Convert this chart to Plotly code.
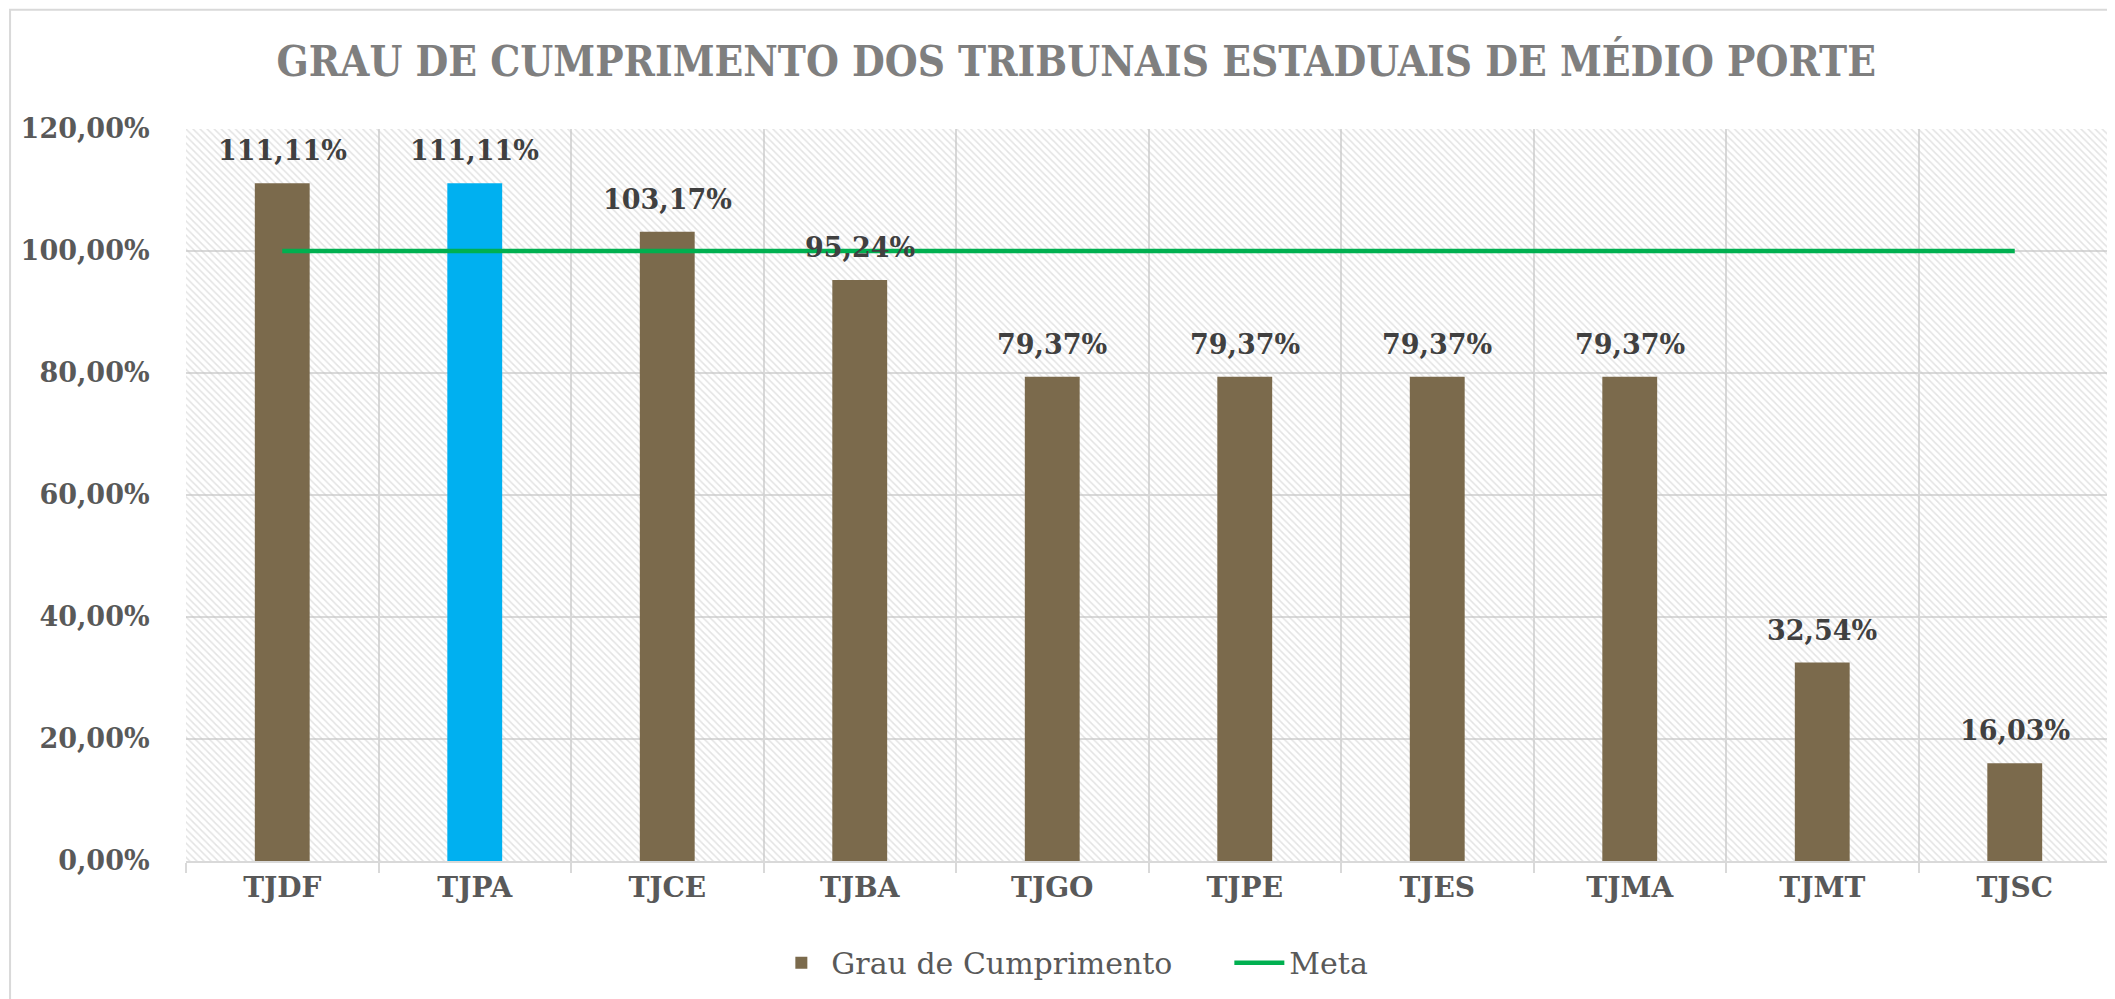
import plotly.graph_objects as go

# data
tribunais = ["TJDF", "TJPA", "TJCE", "TJBA", "TJGO", "TJPE", "TJES", "TJMA", "TJMT", "TJSC"]
grau = [111.11, 111.11, 103.17, 95.24, 79.37, 79.37, 79.37, 79.37, 32.54, 16.03]
meta = [100, 100, 100, 100, 100, 100, 100, 100, 100, 100]
y_ticks = [0, 20, 40, 60, 80, 100, 120]
destaque = "TJPA"

BROWN = "#7B6A4C"
BLUE = "#00B0F0"
GREEN = "#00B050"
GRID = "#D9D9D9"
SERIF = "DejaVu Serif"


def pct(v):
    # Portuguese style: 111,11%
    return f"{v:.2f}%".replace(".", ",")


bar_colors = [BLUE if t == destaque else BROWN for t in tribunais]

fig = go.Figure()

# hatched plot background, one cell per category
fig.add_trace(go.Bar(
    x=tribunais,
    y=[max(y_ticks)] * len(tribunais),
    width=1,
    marker=dict(
        color="rgba(0,0,0,0)",
        line=dict(width=0),
        pattern=dict(shape="\\", fgcolor="#C8C8C8", bgcolor="rgba(0,0,0,0)",
                     size=5, solidity=0.3),
    ),
    showlegend=False,
    hoverinfo="skip",
))

fig.add_trace(go.Bar(
    x=tribunais,
    y=grau,
    name="Grau de Cumprimento",
    width=0.285,
    marker=dict(color=bar_colors, line=dict(width=0)),
))

fig.add_trace(go.Scatter(
    x=tribunais,
    y=meta,
    name="Meta",
    mode="lines",
    line=dict(color=GREEN, width=4.5),
))

# value labels above the bars
for t, v in zip(tribunais, grau):
    fig.add_annotation(
        x=t, y=v, text=pct(v),
        showarrow=False, yanchor="bottom", yshift=15,
        font=dict(family=SERIF, size=27, color="#404040", weight="bold"),
    )

# outer chart border
fig.add_shape(type="rect", xref="paper", yref="paper",
              x0=-0.0914, x1=1.02, y0=-0.4, y1=1.163,
              line=dict(color=GRID, width=2))

# the page adds an 8px body margin, so the figure is 8px smaller
fig.update_layout(
    width=2107,
    height=991,
    barmode="overlay",
    paper_bgcolor="white",
    plot_bgcolor="white",
    margin=dict(l=178, r=4, t=121, b=138),
    title=dict(
        text="GRAU DE CUMPRIMENTO DOS TRIBUNAIS ESTADUAIS DE MÉDIO PORTE",
        x=0.507, xanchor="center", y=0.946, yanchor="middle",
        font=dict(family="DejaVu Serif Condensed, " + SERIF, size=42,
                  color="#7F7F7F", weight="bold"),
    ),
    legend=dict(
        orientation="h",
        x=0.542, xanchor="center",
        y=-0.139, yanchor="middle",
        font=dict(family=SERIF, size=30, color="#595959"),
        itemwidth=50,
        entrywidth=393,
    ),
    showlegend=True,
)

fig.update_xaxes(
    range=[-0.5, len(tribunais) - 0.5],
    automargin=False,
    tickson="boundaries",
    showgrid=True, gridcolor=GRID, gridwidth=2,
    showline=True, linecolor=GRID, linewidth=2,
    ticks="outside", ticklen=10, tickcolor=GRID, tickwidth=2,
    tickfont=dict(family=SERIF, size=28, color="#595959", weight="bold"),
)

fig.update_yaxes(
    range=[0, max(y_ticks)],
    automargin=False,
    tickvals=y_ticks,
    ticktext=[pct(v) for v in y_ticks],
    showgrid=True, gridcolor=GRID, gridwidth=2,
    zeroline=False,
    ticks="outside", ticklen=30, tickcolor="rgba(0,0,0,0)",
    tickfont=dict(family=SERIF, size=27, color="#595959", weight="bold"),
)

fig.write_html("out.html")
